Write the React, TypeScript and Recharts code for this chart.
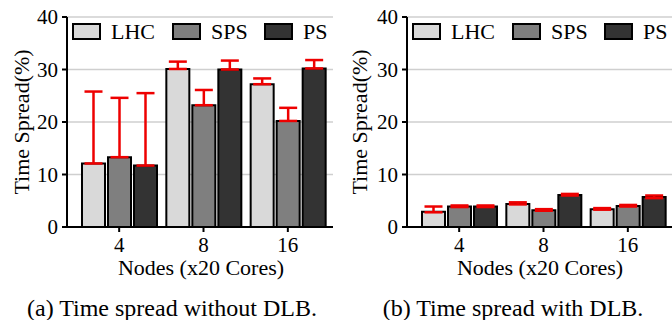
import { Bar, BarChart, CartesianGrid, ErrorBar, XAxis, YAxis } from "recharts";

// Nodes (x20 cores) on the x axis
const nodes = ["4", "8", "16"];
const yTicks = [0, 10, 20, 30, 40];
const seriesNames = ["LHC", "SPS", "PS"];

// (a) without DLB
const lhcNoDlb = [12.1, 30.1, 27.2];
const spsNoDlb = [13.3, 23.2, 20.2];
const psNoDlb = [11.7, 30.0, 30.2];
const lhcNoDlbLow = [0, 0, 0];
const lhcNoDlbHigh = [13.7, 1.4, 1.1];
const spsNoDlbLow = [0, 0, 0];
const spsNoDlbHigh = [11.3, 2.9, 2.5];
const psNoDlbLow = [0, 0, 0];
const psNoDlbHigh = [13.8, 1.7, 1.6];

// (b) with DLB
const lhcDlb = [2.9, 4.4, 3.4];
const spsDlb = [3.9, 3.2, 4.0];
const psDlb = [3.9, 6.1, 5.7];
const lhcDlbLow = [0.1, 0.1, 0.1];
const lhcDlbHigh = [1.0, 0.3, 0.2];
const spsDlbLow = [0.1, 0.1, 0.1];
const spsDlbHigh = [0.2, 0.2, 0.2];
const psDlbLow = [0.1, 0.1, 0.2];
const psDlbHigh = [0.2, 0.2, 0.3];

const FONT = "Liberation Serif";
const COLORS = ["#d9d9d9", "#7f7f7f", "#333333"];
const PLOT_W = 266;

type Row = {
  nodes: string;
  lhc: number;
  sps: number;
  ps: number;
  lhcErr: number[];
  spsErr: number[];
  psErr: number[];
};

const rowsNoDlb: Row[] = nodes.map((n, i) => ({
  nodes: n,
  lhc: lhcNoDlb[i],
  sps: spsNoDlb[i],
  ps: psNoDlb[i],
  lhcErr: [lhcNoDlbLow[i], lhcNoDlbHigh[i]],
  spsErr: [spsNoDlbLow[i], spsNoDlbHigh[i]],
  psErr: [psNoDlbLow[i], psNoDlbHigh[i]],
}));

const rowsDlb: Row[] = nodes.map((n, i) => ({
  nodes: n,
  lhc: lhcDlb[i],
  sps: spsDlb[i],
  ps: psDlb[i],
  lhcErr: [lhcDlbLow[i], lhcDlbHigh[i]],
  spsErr: [spsDlbLow[i], spsDlbHigh[i]],
  psErr: [psDlbLow[i], psDlbHigh[i]],
}));

const axisLine = { stroke: "#000", strokeWidth: 2 };
const tickStyle = { fill: "#000", fontSize: 21, fontFamily: FONT };
const textStyle = { fontFamily: FONT };

function Panel({ rows, left, yAxisWidth }: { rows: Row[]; left: number; yAxisWidth: number }) {
  const keys = ["lhc", "sps", "ps"] as const;
  return (
    <div style={{ position: "absolute", left, top: 0 }}>
      <BarChart
        width={yAxisWidth + PLOT_W + 3}
        height={320}
        data={rows}
        margin={{ top: 17, right: 3, bottom: 63, left: 0 }}
        barCategoryGap={5}
        barGap={3}
        style={textStyle}
      >
        <CartesianGrid vertical={false} stroke="#cfcfcf" strokeWidth={1.5} />
        <XAxis
          dataKey="nodes"
          padding={{ left: 10, right: 3 }}
          height={30}
          tickSize={5}
          tickMargin={5}
          tick={tickStyle}
          tickLine={axisLine}
          axisLine={axisLine}
        />
        <XAxis
          xAxisId="top"
          orientation="top"
          dataKey="nodes"
          height={0}
          tick={false}
          tickLine={false}
          axisLine={axisLine}
        />
        <YAxis
          domain={[0, 40]}
          ticks={yTicks}
          width={yAxisWidth}
          tickSize={5}
          tickMargin={4}
          tick={tickStyle}
          tickLine={axisLine}
          axisLine={axisLine}
        />
        <YAxis
          yAxisId="right"
          orientation="right"
          domain={[0, 40]}
          width={0}
          tick={false}
          tickLine={false}
          axisLine={axisLine}
        />
        {keys.map((k, i) => (
          <Bar
            key={k}
            dataKey={k}
            fill={COLORS[i]}
            stroke="#000"
            strokeWidth={2}
            isAnimationActive={false}
          >
            <ErrorBar
              dataKey={`${k}Err`}
              direction="y"
              stroke="#ee0000"
              strokeWidth={2.5}
              width={9}
              isAnimationActive={false}
            />
          </Bar>
        ))}
      </BarChart>
    </div>
  );
}

// legend, axis titles and captions on top of both panels
function Overlay() {
  const panels = [
    { axisX: 67, caption: "(a) Time spread without DLB.", capX: 172, titleX: 201, ylabX: 29 },
    { axisX: 407, caption: "(b) Time spread with DLB.", capX: 513, titleX: 540, ylabX: 367 },
  ];
  const legendOffsets = [6, 106, 198];
  return (
    <svg
      width={672}
      height={320}
      style={{ position: "absolute", left: 0, top: 0, pointerEvents: "none", fontFamily: FONT }}
    >
      {panels.map((p) => (
        <g key={p.caption}>
          {seriesNames.map((name, i) => (
            <g key={name}>
              <rect
                x={p.axisX + legendOffsets[i]}
                y={24}
                width={27}
                height={15}
                fill={COLORS[i]}
                stroke="#000"
                strokeWidth={2}
              />
              <text
                x={p.axisX + legendOffsets[i] + 38}
                y={39}
                fontSize={22}
                fill="#000"
                style={textStyle}
              >
                {name}
              </text>
            </g>
          ))}
          <text x={p.titleX} y={275} fontSize={22} textAnchor="middle" fill="#000" style={textStyle}>
            Nodes (x20 Cores)
          </text>
          <text
            transform={`translate(${p.ylabX},122) rotate(-90)`}
            fontSize={22}
            textAnchor="middle"
            fill="#000"
            style={textStyle}
          >
            Time Spread(%)
          </text>
          <text x={p.capX} y={316} fontSize={24} textAnchor="middle" fill="#000" style={textStyle}>
            {p.caption}
          </text>
        </g>
      ))}
    </svg>
  );
}

export default function App() {
  return (
    <div
      style={{
        position: "absolute",
        left: 0,
        top: 0,
        width: 672,
        height: 320,
        overflow: "hidden",
        background: "#fff",
        fontFamily: FONT,
      }}
    >
      <Panel rows={rowsNoDlb} left={0} yAxisWidth={67} />
      <Panel rows={rowsDlb} left={336} yAxisWidth={71} />
      <Overlay />
    </div>
  );
}
